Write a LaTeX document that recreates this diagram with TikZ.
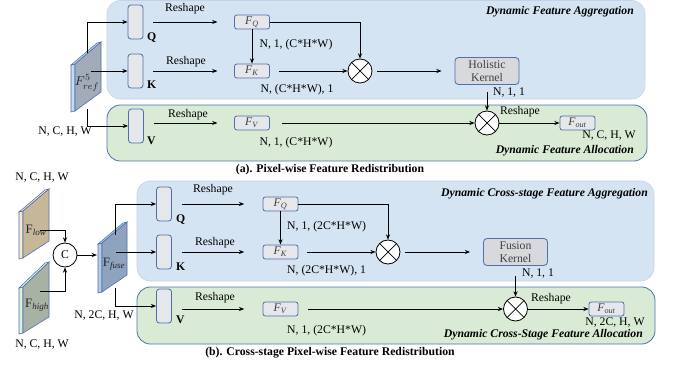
\documentclass[tikz,border=0pt]{standalone}
\usepackage{fontspec}
\setmainfont{Liberation Serif}
\usetikzlibrary{arrows.meta}
\definecolor{pblue}{HTML}{D5E4F2}
\definecolor{pblueb}{HTML}{C3D3E5}
\definecolor{pgreen}{HTML}{DAEBD5}
\definecolor{pgreenb}{HTML}{4A70AE}
\definecolor{bdr}{HTML}{4F6FAD}
\definecolor{boxg}{HTML}{E6E7EA}
\definecolor{kerng}{HTML}{D8D9DC}
\definecolor{txtg}{HTML}{404040}
\definecolor{refface}{HTML}{A2ABB8}
\definecolor{refside}{HTML}{C6DAF2}
\definecolor{lowface}{HTML}{C6B799}
\definecolor{lowside}{HTML}{F6EACB}
\definecolor{highface}{HTML}{A8B2A4}
\definecolor{highside}{HTML}{DCEFDC}
\definecolor{fuseface}{HTML}{8EA3BE}
\definecolor{fuseside}{HTML}{B2CCEC}
\newcommand{\slab}[8]{%
  \filldraw[draw=bdr, fill=#8, line width=0.5pt] (#1,#3) -- (#1-4,#3+1) -- (#1-4,#6+1) -- (#1,#6) -- cycle;
  \filldraw[draw=bdr, fill=#8, line width=0.5pt] (#1,#3) -- (#1-4,#3+1) -- (#2-4,#4+1) -- (#2,#4) -- cycle;
  \filldraw[draw=bdr, fill=#7, line width=0.5pt] (#1,#3) -- (#2,#4) -- (#2,#5) -- (#1,#6) -- cycle;
}
\begin{document}
\begin{tikzpicture}[x=0.03cm,y=-0.03cm,
  font=\fontsize{10}{12}\selectfont,
  panelb/.style={fill=pblue, draw=pblueb, line width=0.5pt, rounded corners=0.4cm},
  panelg/.style={fill=pgreen, draw=pgreenb, line width=0.7pt, rounded corners=0.4cm},
  qkv/.style={draw=bdr, fill=boxg, line width=0.7pt, rounded corners=2.5pt, minimum width=0.45cm, minimum height=1.02cm, inner sep=0},
  fbox/.style={draw=bdr, fill=boxg, line width=0.7pt, rounded corners=2pt, minimum width=1.05cm, minimum height=0.42cm, inner sep=0, text=txtg},
  kern/.style={draw=bdr, fill=kerng, line width=0.7pt, rounded corners=3pt, minimum width=1.92cm, minimum height=0.81cm, inner sep=0, text=txtg, align=center, font=\fontsize{10}{11.5}\selectfont},
  otimes/.style={circle, draw, fill=white, line width=0.7pt, minimum size=0.72cm, inner sep=0,
    path picture={\draw[line width=0.6pt] (path picture bounding box.north west) -- (path picture bounding box.south east)
      (path picture bounding box.north east) -- (path picture bounding box.south west);}},
  catc/.style={circle, draw, fill=white, line width=0.7pt, minimum size=0.72cm, inner sep=0},
  lbl/.style={inner sep=0},
  platelbl/.style={inner sep=0, text=black!85, font=\fontsize{11}{12}\selectfont},
  ttl/.style={inner sep=0, anchor=east, font=\fontsize{10}{12}\selectfont\bfseries\itshape},
  captxt/.style={inner sep=0, font=\fontsize{10}{12}\selectfont\bfseries},
  arr/.style={-{Stealth[length=4.5pt,width=3.5pt]}, line width=0.7pt}
]
\useasboundingbox (0,0) rectangle (673,368);

% ================= (a) =================
\path[panelb] (107,0.5) rectangle (645,99);
\path[panelg] (107,105) rectangle (647,161);
\slab{75}{101}{64}{42}{92}{111}{refface}{refside}
\node[platelbl] (fref) at (87,83) {$F^{5}_{ref}$};
\node[lbl] (dima) at (65,132) {N, C, H, W};

\node[qkv] (qa) at (135.5,22) {};
\node[qkv] (ka) at (135.5,71) {};
\node[qkv] (va) at (136,126) {};
\node[lbl, anchor=west, font=\fontsize{10}{12}\selectfont\bfseries] (qla) at (147,38) {Q};
\node[lbl, anchor=west, font=\fontsize{10}{12}\selectfont\bfseries] (kla) at (147,85) {K};
\node[lbl, anchor=west, font=\fontsize{10}{12}\selectfont\bfseries] (vla) at (147,141) {V};

\node[lbl] (rsa1) at (185,9) {Reshape};
\node[lbl] (rsa2) at (186,62) {Reshape};
\node[lbl] (rsa3) at (188,115) {Reshape};

\node[fbox] (fqa) at (252,22) {\textit{F}\textsubscript{\textit{Q}}};
\node[fbox] (fka) at (252,71) {\textit{F}\textsubscript{\textit{K}}};
\node[fbox] (fva) at (252,123) {\textit{F}\textsubscript{\textit{V}}};

\node[lbl] (da1) at (296,45) {N, 1, (C*H*W)};
\node[lbl] (da2) at (297,90) {N, (C*H*W), 1};
\node[lbl] (da3) at (296,143) {N, 1, (C*H*W)};

\node[otimes] (m1a) at (360,71) {};
\node[kern] (kera) at (487,71) {Holistic\\Kernel};
\node[lbl] (da4) at (509,93) {N, 1, 1};
\node[otimes] (m2a) at (487,123) {};
\node[lbl] (rsa4) at (520,112) {Reshape};
\node[fbox] (fouta) at (577.5,123) {\textit{F}\textsubscript{\textit{out}}};
\node[lbl] (da5) at (609,136) {N, C, H, W};

\node[ttl] (ta1) at (634,12) {Dynamic Feature Aggregation};
\node[ttl] (ta2) at (634,151) {Dynamic Feature Allocation};
\node[captxt] (capa) at (330,170) {(a). Pixel-wise Feature Redistribution};

\coordinate (rqa) at (87,53);
\coordinate (rka) at (91,71);
\coordinate (rva) at (87,109);
\draw[arr] (rqa) |- (qa.west);
\draw[arr] (rka) -- (ka.west);
\draw[arr] (rva) |- (va.west);
\draw[arr, shorten <=0.3cm, shorten >=0.5cm] (qa.east) -- (fqa.west);
\draw[arr, shorten <=0.3cm, shorten >=0.5cm] (ka.east) -- (fka.west);
\draw[arr, shorten <=0.3cm, shorten >=0.5cm] (va.east |- fva.west) -- (fva.west);
\draw[arr] (fqa.east) -| (m1a.north);
\draw[arr] (fqa.south) -- (fka.north);
\draw[arr, shorten <=0.27cm] (fka.east) -- (m1a.west);
\draw[arr, shorten <=0.15cm, shorten >=0.39cm] (m1a.east) -- (kera.west);
\draw[arr, shorten <=0.2cm] (kera.south) -- (m2a.north);
\draw[arr, shorten <=0.36cm] (fva.east) -- (m2a.west);
\draw[arr] (m2a.east) -- (fouta.west);

% ================= (b) =================
\path[panelb] (137,181) rectangle (654,281);
\path[panelg] (137,287) rectangle (655,344);

\slab{23}{49}{211}{189}{241}{258}{lowface}{lowside}
\slab{23}{49}{287}{262}{317}{333}{highface}{highside}
\slab{102}{127}{243}{222}{275}{292}{fuseface}{fuseside}
\node[platelbl] (flow) at (36,230) {F\textsubscript{\textit{low}}};
\node[platelbl] (fhigh) at (37,305) {F\textsubscript{\textit{high}}};
\node[platelbl] (ffuse) at (114,264) {F\textsubscript{\textit{fuse}}};
\node[lbl] (db0) at (42,178) {N, C, H, W};
\node[lbl] (db00) at (42,345) {N, C, H, W};
\node[lbl] (db1) at (104,316) {N, 2C, H, W};
\node[catc] (cc) at (65,255) {C};

\node[qkv] (qb) at (164,204) {};
\node[qkv] (kb) at (164,252) {};
\node[qkv] (vb) at (164,306) {};
\node[lbl, anchor=west, font=\fontsize{10}{12}\selectfont\bfseries] (qlb) at (176,220) {Q};
\node[lbl, anchor=west, font=\fontsize{10}{12}\selectfont\bfseries] (klb) at (176,267) {K};
\node[lbl, anchor=west, font=\fontsize{10}{12}\selectfont\bfseries] (vlb) at (176,320) {V};

\node[lbl] (rsb1) at (213,190) {Reshape};
\node[lbl] (rsb2) at (215,243) {Reshape};
\node[lbl] (rsb3) at (215,298) {Reshape};

\node[fbox] (fqb) at (280.5,204) {\textit{F}\textsubscript{\textit{Q}}};
\node[fbox] (fkb) at (280.5,252) {\textit{F}\textsubscript{\textit{K}}};
\node[fbox] (fvb) at (280.5,309) {\textit{F}\textsubscript{\textit{V}}};

\node[lbl, anchor=west] (db2) at (287,227) {N, 1, (2C*H*W)};
\node[lbl, anchor=west] (db3) at (287,271) {N, (2C*H*W), 1};
\node[lbl, anchor=west] (db4) at (287,331) {N, 1, (2C*H*W)};

\node[otimes] (m1b) at (388,252) {};
\node[kern] (kerb) at (515.5,252) {Fusion\\Kernel};
\node[lbl] (db5) at (538,274) {N, 1, 1};
\node[otimes] (m2b) at (515.5,309) {};
\node[lbl] (rsb4) at (551,299) {Reshape};
\node[fbox] (foutb) at (606.5,309) {\textit{F}\textsubscript{\textit{out}}};
\node[lbl] (db6) at (615,323) {N, 2C, H, W};

\node[ttl] (tb1) at (648,194) {Dynamic Cross-stage Feature Aggregation};
\node[ttl] (tb2) at (643,335) {Dynamic Cross-Stage Feature Allocation};
\node[captxt] (capb) at (330,353) {(b). Cross-stage Pixel-wise Feature Redistribution};

\coordinate (slow) at (40,230);
\coordinate (shigh) at (40,291);
\coordinate (efuse) at (97,255);
\draw[arr] (slow) -| (cc.north);
\draw[arr] (shigh) -| (cc.south);
\draw[arr] (cc.east) -- (efuse);

\coordinate (rqb) at (115,235);
\coordinate (rkb) at (116,252);
\coordinate (rvb) at (115,288);
\draw[arr] (rqb) |- (qb.west);
\draw[arr] (rkb) -- (kb.west);
\draw[arr] (rvb) |- (vb.west);
\draw[arr, shorten <=0.3cm, shorten >=0.55cm] (qb.east) -- (fqb.west);
\draw[arr, shorten <=0.3cm, shorten >=0.55cm] (kb.east) -- (fkb.west);
\draw[arr, shorten <=0.3cm, shorten >=0.55cm] (vb.east |- fvb.west) -- (fvb.west);
\draw[arr] (fqb.east) -| (m1b.north);
\draw[arr] (fqb.south) -- (fkb.north);
\draw[arr, shorten <=0.27cm] (fkb.east) -- (m1b.west);
\draw[arr, shorten <=0.15cm, shorten >=0.39cm] (m1b.east) -- (kerb.west);
\draw[arr, shorten <=0.3cm] (kerb.south) -- (m2b.north);
\draw[arr, shorten <=0.3cm] (fvb.east) -- (m2b.west);
\draw[arr] (m2b.east) -- (foutb.west);
\end{tikzpicture}
\end{document}
